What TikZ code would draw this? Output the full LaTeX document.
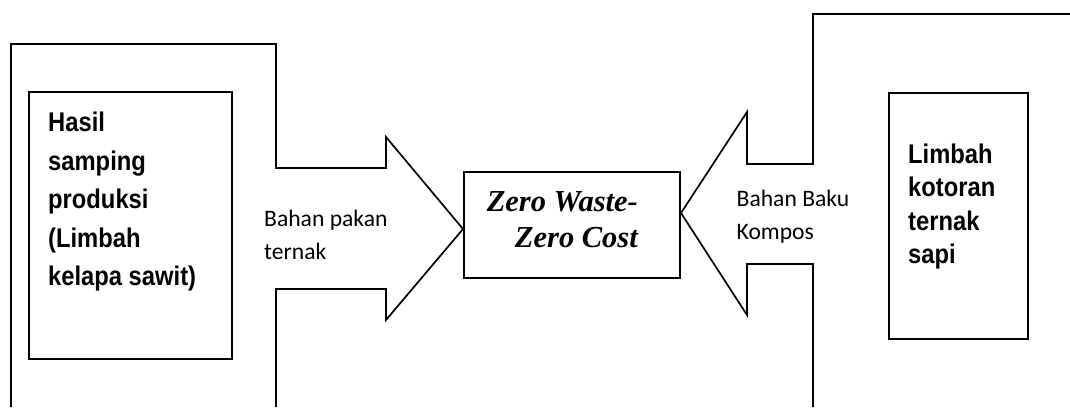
\documentclass[tikz,border=0pt]{standalone}
\usepackage{fontspec}
\usepackage{tikz}
\usetikzlibrary{positioning}
\newfontfamily\boxfont{Liberation Sans}[FakeStretch=0.88]
\newfontfamily\labelfont{Carlito}
\newfontfamily\zerofont{Liberation Serif}
\tikzset{
	srcbox/.style   ={rectangle, draw=black, line width=2.2pt, inner sep=0pt},
	srctext/.style  ={anchor=base west, align=left, inner sep=0pt, font=\boxfont\bfseries\fontsize{27}{38.5}\selectfont},
	flowlabel/.style={anchor=base west, align=left, inner sep=0pt, font=\labelfont\fontsize{23.6}{32.5}\selectfont},
	frame/.style    ={line width=1.7pt, line join=miter},
}
\begin{document}
\begin{tikzpicture}[x=1pt, y=-1pt]
	\useasboundingbox (0,0) rectangle (1070,407);
	% left frame with arrow
	\draw[frame] (11,407) -- (11,44) -- (276,44) -- (276,168) -- (386,168) -- (386,137)
		-- (463,229) -- (386,320) -- (386,289) -- (276,289) -- (276,407);
	% right frame with arrow
	\draw[frame] (1070,14) -- (813,14) -- (813,164) -- (747,164) -- (747,112)
		-- (681,213) -- (747,315) -- (747,264) -- (813,264) -- (813,407);
	% boxes
	\node[srcbox, minimum width=203pt, minimum height=267pt] (sawit) at (130.5,225.5) {};
	\node[srcbox, minimum width=139pt, minimum height=246pt] (sapi) at (958.5,216) {};
	\node[srcbox, minimum width=216pt, minimum height=106pt] (zero) at (572,225) {};
	% texts (base = last line)
	\node[srctext] (sawittxt) at (48,285.5) {Hasil\\samping\\produksi\\(Limbah\\kelapa sawit)};
	\node[srctext, font=\boxfont\bfseries\fontsize{27}{33.5}\selectfont] (sapitxt) at (908,263.8) {Limbah\\kotoran\\ternak\\sapi};
	\node[anchor=base east, align=right, inner sep=0pt, font=\zerofont\bfseries\itshape\fontsize{30.5}{36}\selectfont] (zerotxt) at (638,247.7) {Zero Waste-\\Zero Cost};
	\node[flowlabel] (pakan) at (264,259.2) {Bahan pakan\\ternak};
	\node[flowlabel] (kompos) at (736.5,239.2) {Bahan Baku\\Kompos};
\end{tikzpicture}
\end{document}
